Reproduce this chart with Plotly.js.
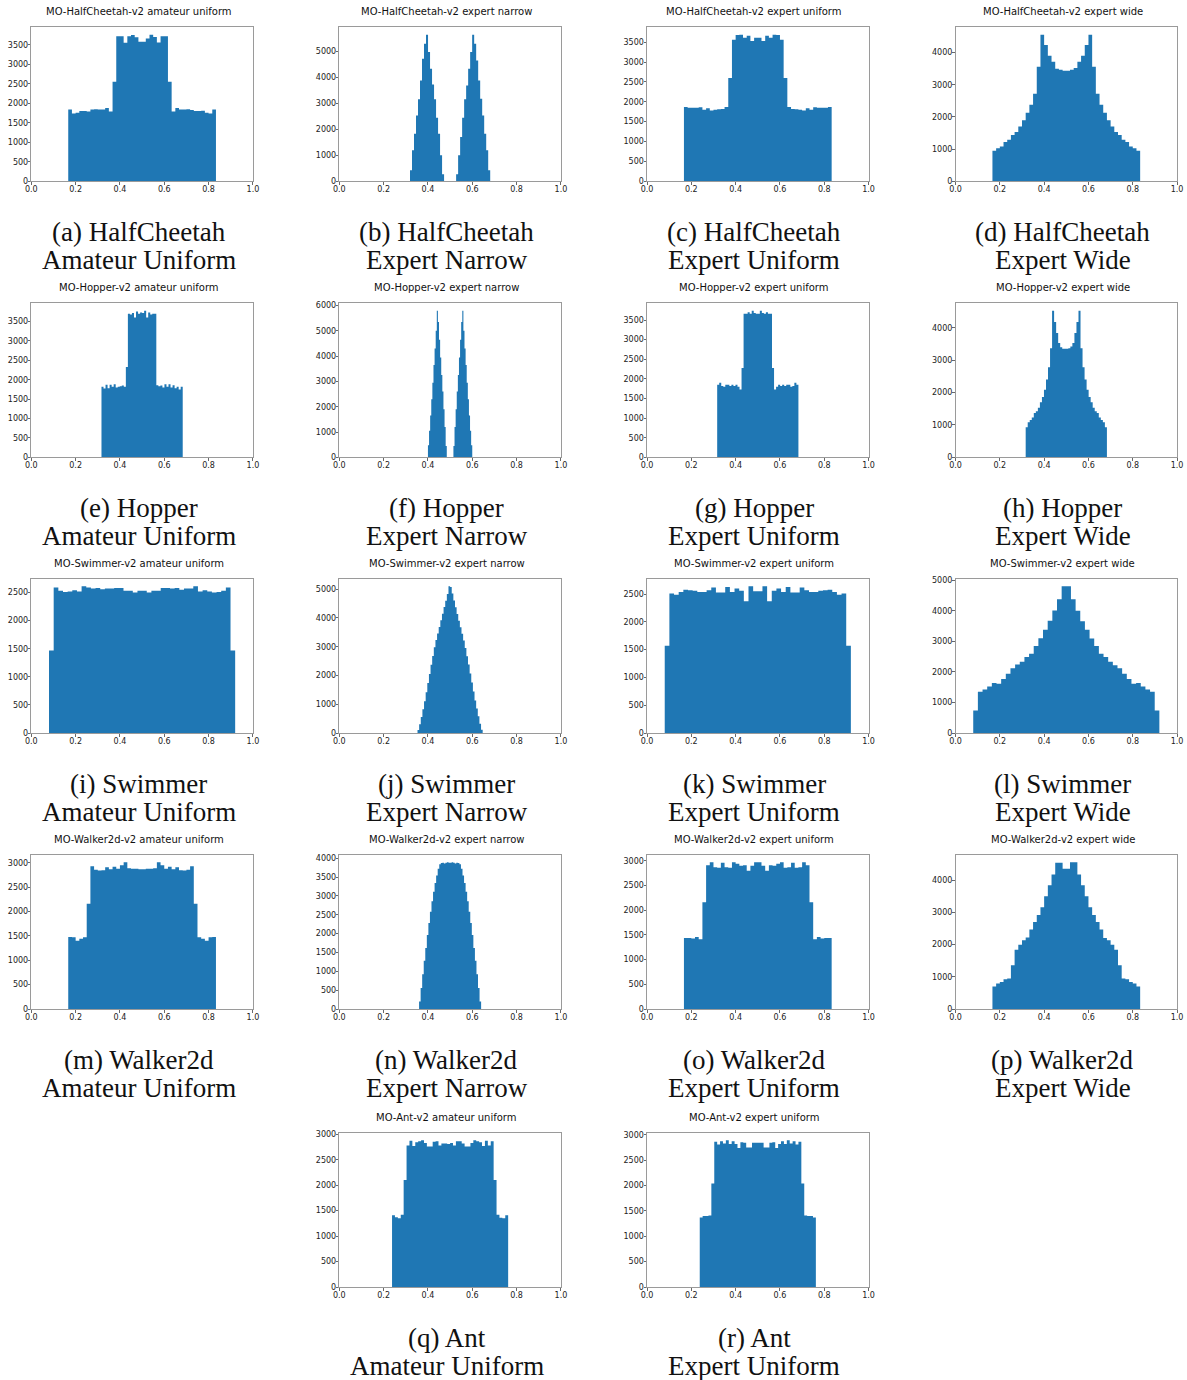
<!DOCTYPE html>
<html>
<head>
<meta charset="utf-8">
<script src="https://cdn.plot.ly/plotly-3.0.1.min.js"></script>
<style>
  html, body { margin: 0; padding: 0; background: #ffffff; }
  #chart { width: 1187px; height: 1380px; }
</style>
</head>
<body>
<div id="chart"></div>
<script>
// Histogram counts, 40 equal-width bins per panel.
const hcAmateurUniform = [1840, 1740, 1760, 1800, 1800, 1790, 1840, 1850, 1840, 1840, 1880, 1790,
  2550, 3720, 3720, 3550, 3720, 3750, 3690, 3580, 3580, 3660, 3760, 3700, 3560, 3720, 3720, 2550,
  1790, 1880, 1840, 1840, 1850, 1830, 1800, 1800, 1810, 1760, 1740, 1840];
const hcExpertNarrow = [420, 1190, 1830, 2530, 3150, 3870, 4700, 5280, 5630, 4960, 4320, 3720, 3150, 2440, 1830, 1000, 270,
  0, 0, 0, 0, 0, 0,
  270, 1000, 1700, 2440, 3150, 3680, 4320, 4960, 5630, 5280, 4640, 3870, 3170, 2530, 1830, 1190, 420];
const hcExpertUniform = [1870, 1850, 1850, 1850, 1860, 1800, 1840, 1780, 1800, 1810, 1820, 1870,
  2600, 3560, 3680, 3690, 3610, 3660, 3530, 3610, 3610, 3530, 3660, 3610, 3690, 3680, 3560, 2600,
  1870, 1820, 1810, 1800, 1780, 1840, 1800, 1860, 1850, 1850, 1850, 1870];
const hcExpertWide = [950, 1030, 1080, 1220, 1290, 1440, 1530, 1700, 1900, 2130, 2380, 2720, 3560, 4560, 4240, 3900, 3720, 3500, 3470, 3440,
  3440, 3470, 3520, 3720, 3900, 4240, 4560, 3560, 2720, 2380, 2130, 1900, 1700, 1530, 1440, 1290, 1220, 1080, 1030, 950];

const hopperAmateurUniform = [1820, 1770, 1870, 1780, 1870, 1820, 1880, 1800, 1820, 1830, 1850, 1820,
  2330, 3700, 3680, 3720, 3600, 3760, 3700, 3730, 3720, 3780, 3600, 3730, 3680, 3700, 3700, 1860,
  1830, 1850, 1800, 1880, 1820, 1880, 1800, 1860, 1780, 1820, 1750, 1820];
const hopperExpertNarrow = [480, 1050, 1650, 2300, 2950, 3650, 4300, 5000, 5800, 5350, 4650, 3950, 3250, 2600, 1900, 1200, 450,
  0, 0, 0, 0, 0, 0,
  450, 1200, 1900, 2600, 3250, 3950, 4650, 5350, 5800, 5000, 4300, 3650, 2950, 2300, 1650, 1050, 480];
const hopperExpertUniform = [1850, 1900, 1820, 1800, 1850, 1850, 1820, 1850, 1820, 1850, 1800, 1730,
  2280, 3660, 3660, 3700, 3660, 3740, 3680, 3660, 3660, 3740, 3680, 3660, 3700, 3660, 3660, 2280,
  1730, 1800, 1850, 1820, 1850, 1820, 1850, 1850, 1800, 1820, 1900, 1850];
const hopperExpertWide = [930, 1080, 1150, 1230, 1370, 1420, 1530, 1700, 1860, 2090, 2400, 2780, 3370, 4530, 4180, 3840, 3530, 3400, 3350, 3350,
  3350, 3370, 3420, 3530, 3840, 4180, 4530, 3370, 2780, 2400, 2090, 1860, 1700, 1530, 1420, 1370, 1230, 1150, 1080, 930];

const swimmerAmateurUniform = [1470, 2590, 2530, 2510, 2520, 2540, 2520, 2610, 2590, 2570, 2580, 2560, 2570, 2570, 2580, 2580, 2530, 2530, 2500, 2530,
  2530, 2500, 2530, 2530, 2580, 2580, 2570, 2580, 2550, 2570, 2570, 2610, 2520, 2540, 2520, 2500, 2510, 2530, 2590, 1470];
const swimmerExpertNarrow = [100, 300, 560, 830, 1100, 1420, 1740, 2050, 2370, 2680, 2980, 3230, 3460, 3690, 3920, 4150, 4380, 4600, 4830, 5100,
  5080, 4850, 4610, 4370, 4140, 3900, 3680, 3450, 3220, 2960, 2670, 2380, 2070, 1760, 1440, 1130, 850, 580, 320, 110];
const swimmerExpertUniform = [1570, 2510, 2490, 2540, 2580, 2570, 2560, 2540, 2540, 2570, 2620, 2530, 2530, 2630, 2540, 2600, 2560, 2370, 2640, 2550,
  2550, 2640, 2370, 2560, 2600, 2540, 2630, 2530, 2530, 2620, 2570, 2540, 2540, 2560, 2570, 2580, 2540, 2490, 2510, 1570];
const swimmerExpertWide = [740, 1350, 1420, 1520, 1640, 1610, 1770, 1940, 2120, 2240, 2330, 2490, 2590, 2850, 3100, 3380, 3670, 4010, 4380, 4800,
  4800, 4380, 4000, 3660, 3380, 3090, 2850, 2590, 2490, 2330, 2220, 2120, 1940, 1770, 1610, 1640, 1520, 1420, 1350, 740];

const walkerAmateurUniform = [1480, 1470, 1400, 1440, 1470, 2160,
  2930, 2860, 2840, 2850, 2910, 2870, 2920, 2880, 2950, 3010, 2890, 2880, 2880, 2870,
  2870, 2880, 2880, 2890, 3010, 2950, 2880, 2920, 2870, 2910, 2850, 2840, 2860, 2930,
  2160, 1470, 1440, 1400, 1470, 1480];
const walkerExpertNarrow = [200, 560, 920, 1280, 1620, 1960, 2280, 2580, 2860, 3110, 3340, 3540, 3720, 3840, 3870, 3880, 3860, 3880, 3890, 3880,
  3880, 3890, 3880, 3860, 3880, 3870, 3840, 3720, 3540, 3340, 3110, 2860, 2580, 2280, 1960, 1620, 1280, 920, 560, 200];
const walkerExpertUniform = [1440, 1440, 1430, 1460, 1410, 2160,
  2910, 2970, 2870, 2860, 2960, 2870, 2860, 2970, 2940, 2900, 2910, 2800, 2900, 2970,
  2970, 2900, 2800, 2910, 2900, 2940, 2970, 2860, 2870, 2960, 2860, 2870, 2970, 2910,
  2160, 1410, 1460, 1430, 1440, 1440];
const walkerExpertWide = [700, 790, 840, 920, 950, 1360, 1840, 1990, 2130, 2220, 2470, 2700, 2920, 3160, 3500, 3840, 4170, 4540, 4540, 4350,
  4350, 4550, 4550, 4170, 3840, 3500, 3160, 2920, 2700, 2470, 2200, 2130, 1990, 1840, 1360, 950, 920, 840, 790, 700];

const antAmateurUniform = [1410, 1370, 1350, 1420, 2100,
  2780, 2870, 2770, 2840, 2860, 2880, 2830, 2760, 2760, 2850, 2860, 2780, 2820, 2820, 2810,
  2830, 2780, 2860, 2860, 2820, 2760, 2760, 2830, 2880, 2860, 2840, 2770, 2870, 2780, 2860,
  2100, 1420, 1360, 1350, 1410];
const antExpertUniform = [1370, 1400, 1400, 1410, 2040,
  2860, 2810, 2870, 2830, 2890, 2820, 2870, 2820, 2740, 2850, 2840, 2750, 2750, 2840, 2840,
  2840, 2840, 2750, 2750, 2840, 2850, 2740, 2820, 2870, 2820, 2890, 2830, 2870, 2810, 2860,
  2040, 1410, 1400, 1400, 1370];

// Lower and upper edge of each panel's binned range.
const binLow  = [0.1667, 0.319, 0.1667, 0.1667, 0.3167, 0.40, 0.3167, 0.3167, 0.08, 0.353, 0.08, 0.08, 0.1667, 0.36, 0.1667, 0.1667, 0.238, 0.238];
const binHigh = [0.8333, 0.681, 0.8333, 0.8333, 0.6833, 0.60, 0.6833, 0.6833, 0.92, 0.647, 0.92, 0.92, 0.8333, 0.64, 0.8333, 0.8333, 0.762, 0.762];

const panelCounts = [
  hcAmateurUniform, hcExpertNarrow, hcExpertUniform, hcExpertWide,
  hopperAmateurUniform, hopperExpertNarrow, hopperExpertUniform, hopperExpertWide,
  swimmerAmateurUniform, swimmerExpertNarrow, swimmerExpertUniform, swimmerExpertWide,
  walkerAmateurUniform, walkerExpertNarrow, walkerExpertUniform, walkerExpertWide,
  antAmateurUniform, antExpertUniform
];

const panelTitles = [
  'MO-HalfCheetah-v2 amateur uniform', 'MO-HalfCheetah-v2 expert narrow', 'MO-HalfCheetah-v2 expert uniform', 'MO-HalfCheetah-v2 expert wide',
  'MO-Hopper-v2 amateur uniform', 'MO-Hopper-v2 expert narrow', 'MO-Hopper-v2 expert uniform', 'MO-Hopper-v2 expert wide',
  'MO-Swimmer-v2 amateur uniform', 'MO-Swimmer-v2 expert narrow', 'MO-Swimmer-v2 expert uniform', 'MO-Swimmer-v2 expert wide',
  'MO-Walker2d-v2 amateur uniform', 'MO-Walker2d-v2 expert narrow', 'MO-Walker2d-v2 expert uniform', 'MO-Walker2d-v2 expert wide',
  'MO-Ant-v2 amateur uniform', 'MO-Ant-v2 expert uniform'
];
const captionFirst = [
  '(a) HalfCheetah', '(b) HalfCheetah', '(c) HalfCheetah', '(d) HalfCheetah',
  '(e) Hopper', '(f) Hopper', '(g) Hopper', '(h) Hopper',
  '(i) Swimmer', '(j) Swimmer', '(k) Swimmer', '(l) Swimmer',
  '(m) Walker2d', '(n) Walker2d', '(o) Walker2d', '(p) Walker2d',
  '(q) Ant', '(r) Ant'
];
const captionSecond = [
  'Amateur Uniform', 'Expert Narrow', 'Expert Uniform', 'Expert Wide',
  'Amateur Uniform', 'Expert Narrow', 'Expert Uniform', 'Expert Wide',
  'Amateur Uniform', 'Expert Narrow', 'Expert Uniform', 'Expert Wide',
  'Amateur Uniform', 'Expert Narrow', 'Expert Uniform', 'Expert Wide',
  'Amateur Uniform', 'Expert Uniform'
];

const xTickVals = [0, 0.2, 0.4, 0.6, 0.8, 1.0];
const xTickText = ['0.0', '0.2', '0.4', '0.6', '0.8', '1.0'];

// Page geometry (pixels)
const W = 1187, H = 1380;
const colLeft = [31.3, 339.3, 647.0, 955.5];
const rowTop = [27.3, 303.3, 579.0, 855.0, 1133.0];
const plotW = 221.6, plotH = 154;
const panelCell = (k) => (k < 16 ? [Math.floor(k / 4), k % 4] : [4, k - 15]);

const BLUE = '#1f77b4';
const tickFont = { family: 'DejaVu Sans, sans-serif', size: 8, color: '#222222' };

const traces = [];
const layout = {
  width: W, height: H,
  margin: { l: 0, r: 0, t: 0, b: 0 },
  paper_bgcolor: '#ffffff',
  plot_bgcolor: '#ffffff',
  showlegend: false,
  annotations: []
};

// Each histogram is drawn as one filled step outline over its bin edges,
// so neighbouring bins join without seams.
function stepOutline(counts, lo, hi) {
  const n = counts.length;
  const bw = (hi - lo) / n;
  const xs = [lo], ys = [0];
  counts.forEach((c, i) => { xs.push(lo + i * bw); ys.push(c); });
  xs.push(hi); ys.push(counts[n - 1]);
  xs.push(hi); ys.push(0);
  return { xs, ys };
}

panelCounts.forEach((counts, k) => {
  const [row, col] = panelCell(k);
  const suffix = k === 0 ? '' : String(k + 1);
  const { xs, ys } = stepOutline(counts, binLow[k], binHigh[k]);

  traces.push({
    type: 'scatter',
    mode: 'lines',
    x: xs,
    y: ys,
    xaxis: 'x' + suffix,
    yaxis: 'y' + suffix,
    line: { shape: 'hv', width: 0, color: BLUE },
    fill: 'toself',
    fillcolor: BLUE,
    hoverinfo: 'skip'
  });

  const left = colLeft[col], top = rowTop[row];
  const peak = Math.max(...counts);
  const axisCommon = {
    showgrid: false, zeroline: false,
    showline: true, mirror: true, linecolor: '#9a9a9a', linewidth: 1,
    ticks: 'outside', ticklen: 2.5, tickwidth: 0.8, tickcolor: '#444444',
    tickfont: tickFont, fixedrange: true
  };
  layout['xaxis' + suffix] = Object.assign({}, axisCommon, {
    domain: [left / W, (left + plotW) / W],
    anchor: 'y' + suffix,
    range: [0, 1],
    tickmode: 'array', tickvals: xTickVals, ticktext: xTickText,
    ticklabelstandoff: -2
  });
  layout['yaxis' + suffix] = Object.assign({}, axisCommon, {
    domain: [1 - (top + plotH) / H, 1 - top / H],
    anchor: 'x' + suffix,
    range: [0, peak * 1.05],
    tick0: 0, dtick: peak > 4000 ? 1000 : 500,
    ticklabelstandoff: -2
  });

  const cx = (left + plotW / 2 - 3.5) / W;
  layout.annotations.push({
    xref: 'paper', yref: 'paper', x: cx, y: 1 - (top - 15.6) / H,
    xanchor: 'center', yanchor: 'middle', showarrow: false,
    text: panelTitles[k],
    font: { family: 'DejaVu Sans, sans-serif', size: 10, color: '#111111' }
  });
  const capFont = { family: 'Liberation Serif, Times New Roman, serif', size: 27, color: '#111111' };
  layout.annotations.push({
    xref: 'paper', yref: 'paper', x: cx, y: 1 - (top + 204.6) / H,
    xanchor: 'center', yanchor: 'middle', showarrow: false,
    text: captionFirst[k], font: capFont
  });
  layout.annotations.push({
    xref: 'paper', yref: 'paper', x: cx, y: 1 - (top + 232.9) / H,
    xanchor: 'center', yanchor: 'middle', showarrow: false,
    text: captionSecond[k], font: capFont
  });
});

Plotly.newPlot('chart', traces, layout, { staticPlot: true, displayModeBar: false });
</script>
</body>
</html>
